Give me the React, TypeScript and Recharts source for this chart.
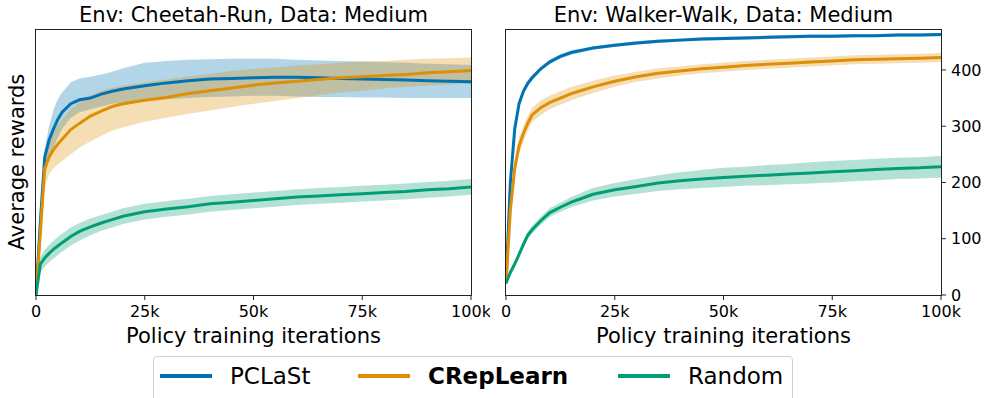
import { ComposedChart, Line, Area, XAxis, YAxis } from "recharts";

const iters = [0, 1000, 2000, 3000, 4000, 5000, 6000, 8000, 10000, 12500, 15000, 17500, 20000, 25000, 30000, 35000, 40000, 45000, 50000, 55000, 60000, 65000, 70000, 75000, 80000, 85000, 90000, 95000, 100000];
const xTicks = [0, 25000, 50000, 75000, 100000];
const yTicks = [0, 100, 200, 300, 400];

// Cheetah-Run
const cheetahPclast = [0, 130, 245, 275, 295, 312, 325, 340, 347, 350, 357, 362, 366, 372, 377, 381, 384, 385, 386, 387, 387, 386, 385, 384, 383, 382, 381, 380, 379];
const cheetahPclastLo = [0, 110, 210, 240, 260, 280, 295, 315, 325, 330, 335, 340, 342, 345, 348, 350, 352, 353, 354, 354, 353, 352, 352, 351, 351, 350, 350, 350, 350];
const cheetahPclastHi = [0, 150, 260, 300, 329, 348, 360, 378, 385, 388, 392, 397, 403, 413, 416, 418, 419, 420, 420, 420, 418, 417, 416, 415, 414, 413, 411, 410, 409];
const cheetahCrep = [0, 110, 225, 245, 258, 268, 277, 294, 305, 318, 327, 335, 340, 346, 351, 358, 363, 368, 373, 377, 380, 383, 386, 388, 390, 392, 395, 397, 399];
const cheetahCrepLo = [0, 90, 190, 215, 225, 232, 238, 250, 262, 273, 283, 292, 298, 308, 315, 322, 328, 334, 340, 345, 350, 355, 360, 363, 367, 370, 372, 374, 376];
const cheetahCrepHi = [0, 130, 255, 275, 290, 302, 312, 330, 342, 355, 363, 368, 372, 378, 383, 389, 393, 398, 402, 405, 408, 410, 413, 415, 416, 418, 420, 421, 422];
const cheetahRandom = [0, 55, 66, 74, 81, 87, 93, 104, 113, 121, 128, 134, 140, 148, 153, 157, 162, 165, 168, 171, 174, 176, 178, 180, 182, 184, 187, 189, 192];
const cheetahRandomLo = [0, 40, 50, 58, 65, 71, 77, 88, 97, 106, 114, 120, 126, 134, 139, 143, 148, 151, 154, 157, 160, 162, 164, 166, 168, 170, 173, 175, 178];
const cheetahRandomHi = [0, 68, 80, 89, 96, 103, 109, 120, 128, 136, 142, 148, 154, 162, 167, 171, 176, 179, 182, 185, 188, 190, 192, 194, 196, 198, 201, 203, 206];

// Walker-Walk
const walkerPclast = [21, 200, 295, 340, 362, 376, 386, 402, 414, 424, 431, 435, 439, 444, 448, 451, 453, 455, 456, 457, 458, 459, 460, 460, 461, 461, 462, 462, 463];
const walkerPclastLo = [21, 192, 287, 333, 356, 371, 381, 398, 410, 420, 427, 432, 436, 441, 445, 448, 450, 452, 453, 454, 455, 456, 457, 457, 458, 458, 459, 459, 460];
const walkerPclastHi = [21, 208, 303, 347, 368, 381, 391, 406, 418, 428, 435, 438, 442, 447, 451, 454, 456, 458, 459, 460, 461, 462, 463, 463, 464, 464, 465, 465, 466];
const walkerCrep = [21, 150, 225, 265, 287, 305, 320, 333, 342, 350, 358, 364, 370, 380, 388, 394, 398, 402, 405, 408, 410, 412, 414, 416, 418, 419, 420, 421, 422];
const walkerCrepLo = [21, 135, 210, 250, 273, 292, 307, 320, 330, 338, 346, 353, 359, 370, 379, 385, 390, 394, 397, 400, 402, 404, 406, 408, 410, 411, 412, 413, 414];
const walkerCrepHi = [21, 165, 240, 280, 301, 318, 333, 346, 354, 362, 370, 375, 381, 390, 397, 403, 406, 410, 413, 416, 418, 420, 422, 424, 426, 427, 428, 429, 430];
const walkerRandom = [21, 40, 55, 72, 90, 106, 116, 132, 146, 156, 165, 172, 179, 187, 193, 199, 203, 206, 209, 211, 213, 215, 217, 219, 221, 223, 225, 226, 228];
const walkerRandomLo = [21, 36, 50, 66, 83, 99, 109, 125, 138, 148, 156, 162, 168, 175, 180, 185, 188, 190, 192, 194, 195, 197, 198, 200, 202, 204, 206, 207, 209];
const walkerRandomHi = [21, 44, 60, 78, 97, 113, 123, 139, 154, 164, 174, 182, 190, 199, 206, 213, 218, 222, 226, 228, 231, 233, 236, 238, 240, 242, 244, 245, 247];

const BLUE = "#0173b2";
const ORANGE = "#de8f05";
const GREEN = "#029e73";
const FONT = "'DejaVu Sans', sans-serif";

const buildRows = (
  pc: number[], pcLo: number[], pcHi: number[],
  cr: number[], crLo: number[], crHi: number[],
  rd: number[], rdLo: number[], rdHi: number[]
) =>
  iters.map((x, i) => ({
    x,
    pclast: pc[i],
    pclastBand: [pcLo[i], pcHi[i]],
    crep: cr[i],
    crepBand: [crLo[i], crHi[i]],
    random: rd[i],
    randomBand: [rdLo[i], rdHi[i]],
  }));

const cheetahRows = buildRows(cheetahPclast, cheetahPclastLo, cheetahPclastHi, cheetahCrep, cheetahCrepLo, cheetahCrepHi, cheetahRandom, cheetahRandomLo, cheetahRandomHi);
const walkerRows = buildRows(walkerPclast, walkerPclastLo, walkerPclastHi, walkerCrep, walkerCrepLo, walkerCrepHi, walkerRandom, walkerRandomLo, walkerRandomHi);

const fmtIter = (v: number) => (v === 0 ? "0" : `${v / 1000}k`);

const Panel = ({ rows, width, rightPad, showY }: { rows: any[]; width: number; rightPad: number; showY: boolean }) => (
  <ComposedChart width={width} height={345} data={rows} margin={{ top: 30, right: rightPad, bottom: 0, left: 36 }}>
    <XAxis
      dataKey="x"
      type="number"
      domain={[0, 100000]}
      ticks={xTicks}
      tickFormatter={fmtIter}
      height={50}
      axisLine={false}
      tickSize={5}
      tickMargin={6}
      tickLine={{ stroke: "#222" }}
      tick={{ fill: "#000", fontSize: 16, fontFamily: FONT }}
      allowDataOverflow
    />
    <YAxis
      domain={[0, 471]}
      ticks={yTicks}
      orientation="right"
      hide={!showY}
      width={48}
      axisLine={false}
      tickSize={5}
      tickMargin={5}
      tickLine={{ stroke: "#222" }}
      tick={{ fill: "#000", fontSize: 16, fontFamily: FONT }}
      allowDataOverflow
    />
    <Area type="linear" dataKey="pclastBand" stroke="none" fill={BLUE} fillOpacity={0.3} isAnimationActive={false} />
    <Area type="linear" dataKey="crepBand" stroke="none" fill={ORANGE} fillOpacity={0.3} isAnimationActive={false} />
    <Area type="linear" dataKey="randomBand" stroke="none" fill={GREEN} fillOpacity={0.3} isAnimationActive={false} />
    <Line type="linear" dataKey="pclast" stroke={BLUE} strokeWidth={3} dot={false} isAnimationActive={false} />
    <Line type="linear" dataKey="crep" stroke={ORANGE} strokeWidth={3} dot={false} isAnimationActive={false} />
    <Line type="linear" dataKey="random" stroke={GREEN} strokeWidth={3} dot={false} isAnimationActive={false} />
  </ComposedChart>
);

const textStyle = { position: "absolute" as const, fontFamily: FONT, color: "#000", whiteSpace: "nowrap" as const };

const frame = (left: number) => (
  <div style={{ position: "absolute", left, top: 29, width: 437, height: 267, border: "1px solid #222", boxSizing: "border-box", pointerEvents: "none" }} />
);

const legendItems = [
  { name: "PCLaSt", color: BLUE, bold: false, lineX: 160, textX: 230 },
  { name: "CRepLearn", color: ORANGE, bold: true, lineX: 358, textX: 428 },
  { name: "Random", color: GREEN, bold: false, lineX: 618, textX: 688 },
];

export default function App() {
  return (
    <div style={{ position: "absolute", left: 0, top: 0, width: 989, height: 398, overflow: "hidden", background: "#fff" }}>
      <div style={{ position: "absolute", left: 470, top: 0 }}>
        <Panel rows={walkerRows} width={519} rightPad={0} showY={true} />
      </div>
      <div style={{ position: "absolute", left: 0, top: 0 }}>
        <Panel rows={cheetahRows} width={490} rightPad={19} showY={false} />
      </div>
      {frame(35)}
      {frame(505)}

      <div style={{ ...textStyle, left: 36, top: 3, width: 435, textAlign: "center", fontSize: 21, lineHeight: "24px" }}>Env: Cheetah-Run, Data: Medium</div>
      <div style={{ ...textStyle, left: 506, top: 3, width: 435, textAlign: "center", fontSize: 21, lineHeight: "24px" }}>Env: Walker-Walk, Data: Medium</div>
      <div style={{ ...textStyle, left: 36, top: 324, width: 435, textAlign: "center", fontSize: 21, lineHeight: "24px" }}>Policy training iterations</div>
      <div style={{ ...textStyle, left: 506, top: 324, width: 435, textAlign: "center", fontSize: 21, lineHeight: "24px" }}>Policy training iterations</div>
      <div style={{ ...textStyle, left: 17 - 100, top: 162 - 12, width: 200, textAlign: "center", fontSize: 21, lineHeight: "24px", transform: "rotate(-90deg)" }}>Average rewards</div>

      <div style={{ position: "absolute", left: 153, top: 356, width: 640, height: 60, border: "1px solid #d0d0d0", borderRadius: 4, boxSizing: "border-box" }} />
      {legendItems.map((it) => (
        <div key={it.name}>
          <div style={{ position: "absolute", left: it.lineX, top: 374, width: 52, height: 4, background: it.color }} />
          <div style={{ ...textStyle, left: it.textX, top: 363, fontSize: 23, lineHeight: "27px", fontWeight: it.bold ? "bold" : "normal" }}>{it.name}</div>
        </div>
      ))}
    </div>
  );
}
